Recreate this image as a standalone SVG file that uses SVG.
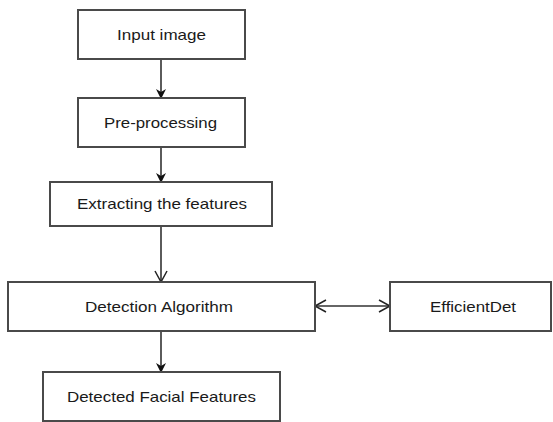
<svg xmlns="http://www.w3.org/2000/svg" width="553" height="422" viewBox="0 0 553 422">
<style>
.box{fill:#fff;stroke:#4a4a4a;stroke-width:2}
.lbl{font-family:"Liberation Sans",Arial,sans-serif;font-size:14.5px;fill:#1a1a1a;text-anchor:middle;dominant-baseline:central}
.ln{stroke:#333;stroke-width:1.6;fill:none}
</style>
<defs>
<marker id="filled" markerWidth="10" markerHeight="10" refX="9" refY="5" orient="auto" markerUnits="userSpaceOnUse">
<path d="M0,0 L10,5 L0,10 L3,5 Z" fill="#111"/>
</marker>
<marker id="open" markerWidth="14" markerHeight="14" refX="12" refY="7" orient="auto-start-reverse" markerUnits="userSpaceOnUse">
<path d="M1,1 L12,7 L1,13" fill="none" stroke="#222" stroke-width="1.5"/>
</marker>
</defs>
<rect width="553" height="422" fill="#fff"/>
<g id="connectors">
<line class="ln" x1="161" y1="59" x2="161" y2="98" marker-end="url(#filled)"/>
<line class="ln" x1="161" y1="147" x2="161" y2="182" marker-end="url(#filled)"/>
<line class="ln" x1="161" y1="226" x2="161" y2="282" marker-end="url(#open)"/>
<line class="ln" x1="161" y1="331" x2="161" y2="372" marker-end="url(#filled)"/>
<line class="ln" x1="315" y1="306" x2="390" y2="306" marker-start="url(#open)" marker-end="url(#open)"/>
</g>
<g id="input"><rect class="box" x="78" y="10" width="167" height="49"/><text class="lbl" x="161.5" y="35" textLength="89" lengthAdjust="spacingAndGlyphs">Input image</text></g>
<g id="preproc"><rect class="box" x="78" y="98" width="167" height="49"/><text class="lbl" x="160.5" y="123" textLength="113" lengthAdjust="spacingAndGlyphs">Pre-processing</text></g>
<g id="extract"><rect class="box" x="50" y="182" width="222" height="44"/><text class="lbl" x="162" y="204" textLength="170" lengthAdjust="spacingAndGlyphs">Extracting the features</text></g>
<g id="detect"><rect class="box" x="8" y="282" width="307" height="49"/><text class="lbl" x="159" y="307" textLength="148" lengthAdjust="spacingAndGlyphs">Detection Algorithm</text></g>
<g id="effdet"><rect class="box" x="390" y="282" width="161" height="49"/><text class="lbl" x="473" y="307" textLength="86" lengthAdjust="spacingAndGlyphs">EfficientDet</text></g>
<g id="result"><rect class="box" x="43" y="372" width="237" height="49"/><text class="lbl" x="161.5" y="397" textLength="189" lengthAdjust="spacingAndGlyphs">Detected Facial Features</text></g>
</svg>
